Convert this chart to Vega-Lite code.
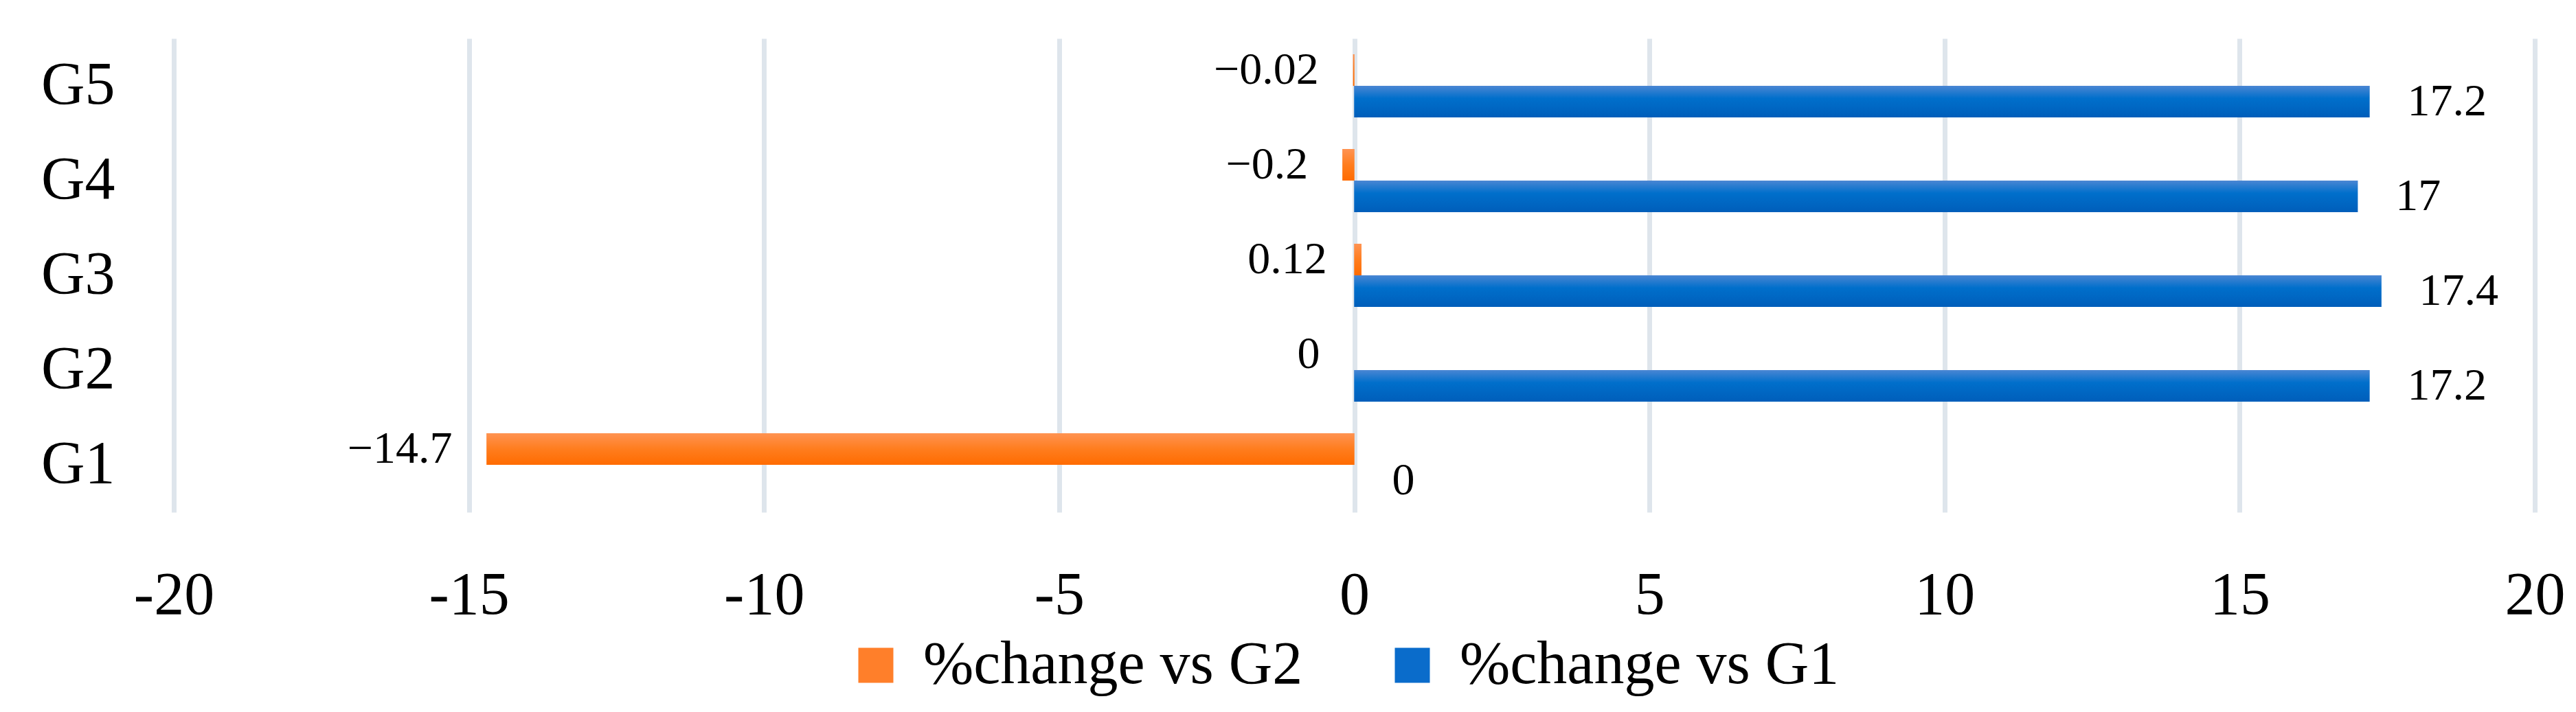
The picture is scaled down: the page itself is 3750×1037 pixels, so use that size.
{
  "$schema": "https://vega.github.io/schema/vega-lite/v6.json",
  "autosize": "none",
  "width": 3437,
  "height": 690,
  "padding": {"left": 253, "top": 56, "right": 60, "bottom": 291},
  "background": "white",
  "config": {
    "font": "Liberation Serif",
    "view": {"stroke": null},
    "axis": {"labelColor": "black", "domain": false, "ticks": false, "title": null}
  },
  "data": {
    "values": [
      {"group": "G1", "series": "%change vs G2", "value": -14.7},
      {"group": "G1", "series": "%change vs G1", "value": 0},
      {"group": "G2", "series": "%change vs G2", "value": 0},
      {"group": "G2", "series": "%change vs G1", "value": 17.2},
      {"group": "G3", "series": "%change vs G2", "value": 0.12},
      {"group": "G3", "series": "%change vs G1", "value": 17.4},
      {"group": "G4", "series": "%change vs G2", "value": -0.2},
      {"group": "G4", "series": "%change vs G1", "value": 17},
      {"group": "G5", "series": "%change vs G2", "value": -0.02},
      {"group": "G5", "series": "%change vs G1", "value": 17.2}
    ]
  },
  "encoding": {
    "y": {
      "field": "group",
      "type": "nominal",
      "sort": ["G5", "G4", "G3", "G2", "G1"],
      "scale": {"paddingInner": 0.333, "paddingOuter": 0.167},
      "axis": {"labelFontSize": 88, "labelPadding": 86, "grid": false}
    },
    "yOffset": {"field": "series", "type": "nominal", "sort": ["%change vs G2", "%change vs G1"]},
    "x": {
      "field": "value",
      "type": "quantitative",
      "scale": {"domain": [-20, 20], "nice": false, "zero": false},
      "axis": {
        "values": [-20, -15, -10, -5, 0, 5, 10, 15, 20],
        "grid": true,
        "gridColor": "#DEE5EC",
        "gridWidth": 7,
        "labelFontSize": 88,
        "labelPadding": 77,
        "labelFlush": false,
        "labelOverlap": false,
        "labelExpr": "'' + datum.value"
      }
    }
  },
  "layer": [
    {
      "mark": {"type": "bar"},
      "encoding": {
        "color": {
          "field": "series",
          "type": "nominal",
          "scale": {"domain": ["%change vs G2", "%change vs G1"], "range": ["#FF7F2A", "#0A6CCB"]},
          "legend": {
            "title": null,
            "orient": "none",
            "direction": "horizontal",
            "legendX": 978,
            "legendY": 869,
            "padding": 0,
            "labelFontSize": 88,
            "labelColor": "black",
            "labelLimit": 0,
            "symbolType": "square",
            "symbolSize": 2601,
            "symbolStrokeWidth": 0,
            "labelOffset": 25,
            "columnPadding": 115,
            "encode": {
              "symbols": {
                "update": {
                  "fill": [
                    {"test": "datum.value === '%change vs G2'", "value": {"gradient": "linear", "x1": 0, "y1": 0, "x2": 0, "y2": 1, "stops": [{"offset": 0, "color": "#FF9352"}, {"offset": 1, "color": "#FF6B00"}]}},
                    {"value": {"gradient": "linear", "x1": 0, "y1": 0, "x2": 0, "y2": 1, "stops": [{"offset": 0, "color": "#4A86D3"}, {"offset": 0.5, "color": "#006FCB"}, {"offset": 1, "color": "#005EBA"}]}}
                  ]
                }
              }
            }
          }
        }
      }
    },
    {
      "transform": [{"filter": "datum.series === '%change vs G2'"}],
      "mark": {
        "type": "bar",
        "color": {"gradient": "linear", "x1": 0, "y1": 0, "x2": 0, "y2": 1,
          "stops": [{"offset": 0, "color": "#FF9352"}, {"offset": 0.5, "color": "#FF7D1E"}, {"offset": 1, "color": "#FF6B00"}]}
      }
    },
    {
      "transform": [{"filter": "datum.series === '%change vs G1'"}],
      "mark": {
        "type": "bar",
        "color": {"gradient": "linear", "x1": 0, "y1": 0, "x2": 0, "y2": 1,
          "stops": [{"offset": 0, "color": "#4A86D3"}, {"offset": 0.4, "color": "#006FCB"}, {"offset": 1, "color": "#005EBA"}]}
      }
    },
    {
      "transform": [{"filter": "datum.series === '%change vs G2'"}],
      "mark": {"type": "text", "align": "right", "baseline": "middle", "dx": -50, "fontSize": 66, "color": "black"},
      "encoding": {"text": {"field": "value", "type": "quantitative"}}
    },
    {
      "transform": [{"filter": "datum.series === '%change vs G1'"}],
      "mark": {"type": "text", "align": "left", "baseline": "middle", "dx": 55, "fontSize": 66, "color": "black"},
      "encoding": {"text": {"field": "value", "type": "quantitative"}}
    }
  ]
}
